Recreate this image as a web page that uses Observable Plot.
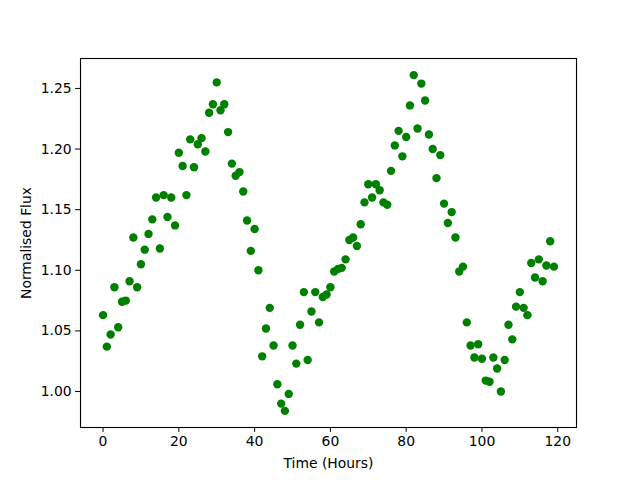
<!DOCTYPE html>
<html>
<head>
<meta charset="utf-8">
<script src="https://cdn.jsdelivr.net/npm/d3@7"></script>
<script src="https://cdn.jsdelivr.net/npm/@observablehq/plot@0.6"></script>
<style>
  body { margin: 0; background: white; }
</style>
</head>
<body>
<div id="chart"></div>
<script>
const hours = d3.range(0, 120);
const flux = [
  1.063, 1.037, 1.047, 1.086, 1.053, 1.074, 1.075, 1.091, 1.127, 1.086,
  1.105, 1.117, 1.130, 1.142, 1.160, 1.118, 1.162, 1.144, 1.160, 1.137,
  1.197, 1.186, 1.162, 1.208, 1.185, 1.204, 1.209, 1.198, 1.230, 1.237,
  1.255, 1.232, 1.237, 1.214, 1.188, 1.178, 1.181, 1.165, 1.141, 1.116,
  1.134, 1.100, 1.029, 1.052, 1.069, 1.038, 1.006, 0.990, 0.984, 0.998,
  1.038, 1.023, 1.055, 1.082, 1.026, 1.066, 1.082, 1.057, 1.078, 1.080,
  1.086, 1.099, 1.101, 1.102, 1.109, 1.125, 1.127, 1.120, 1.138, 1.156,
  1.171, 1.160, 1.171, 1.166, 1.156, 1.154, 1.182, 1.203, 1.215, 1.194,
  1.210, 1.236, 1.261, 1.217, 1.254, 1.240, 1.212, 1.200, 1.176, 1.195,
  1.155, 1.139, 1.148, 1.127, 1.099, 1.103, 1.057, 1.038, 1.028, 1.039,
  1.027, 1.009, 1.008, 1.028, 1.019, 1.000, 1.026, 1.055, 1.043, 1.070,
  1.082, 1.069, 1.063, 1.106, 1.094, 1.109, 1.091, 1.104, 1.124, 1.103
];
const xTicks = [0, 20, 40, 60, 80, 100, 120];
const yTicks = [1.00, 1.05, 1.10, 1.15, 1.20, 1.25];
const xLabel = "Time (Hours)";
const yLabel = "Normalised Flux";

const data = hours.map((h, i) => ({hour: h, flux: flux[i]}));

const chart = Plot.plot({
  width: 640,
  height: 480,
  marginLeft: 80,
  marginRight: 64,
  marginTop: 58,
  marginBottom: 53,
  style: {fontFamily: "DejaVu Sans", fontSize: "13.9px", color: "black", background: "white"},
  x: {domain: [-5.95, 124.95]},
  y: {domain: [0.9703, 1.2747]},
  marks: [
    Plot.axisX({ticks: xTicks, tickSize: 4.9, tickPadding: 4, label: null, tickFormat: d3.format("d")}),
    Plot.axisY({ticks: yTicks, tickSize: 4.9, tickPadding: 4, label: null, tickFormat: d3.format(".2f")}),
    Plot.dot(data, {x: "hour", y: "flux", r: 4.2, fill: "green", stroke: "none"}),
    Plot.frame({stroke: "black", strokeWidth: 1.1}),
    Plot.text([xLabel], {frameAnchor: "bottom", dy: 36, textAnchor: "middle", lineAnchor: "middle", fill: "black"}),
    Plot.text([yLabel], {frameAnchor: "left", dx: -54, rotate: -90, textAnchor: "middle", lineAnchor: "middle", fill: "black"})
  ]
});
document.getElementById("chart").append(chart);
</script>
</body>
</html>
